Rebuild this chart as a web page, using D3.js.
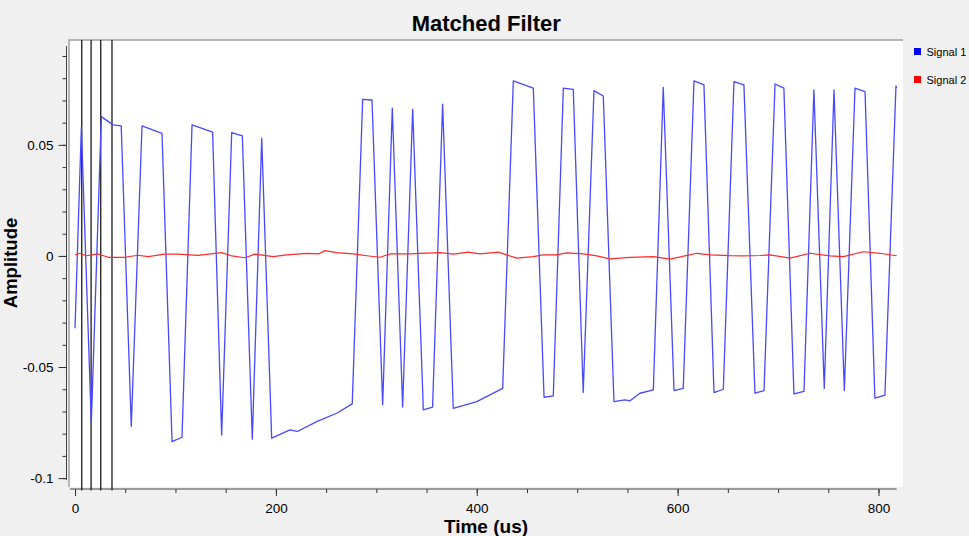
<!DOCTYPE html>
<html>
<head>
<meta charset="utf-8">
<script src="https://cdn.jsdelivr.net/npm/d3@7"></script>
<style>
  body { margin: 0; background: #f0f0f0; }
  svg { display: block; font-family: "Liberation Sans", Arial, sans-serif; }
</style>
</head>
<body>
<div id="chart"></div>
<script>
// Matched filter scope plot

const width = 969;
const height = 536;

// Signal 1 (blue) - time in us, amplitude
const sig1Time = [0, 6.3, 16.2, 26.2, 37.8, 46, 56, 66.7, 86.6, 96.6, 106.5, 116.5, 137, 146, 156, 166.6,
  176.5, 185.9, 195.8, 214, 221.3, 240.6, 260.5, 276, 286.4, 295.7, 306.3, 315.9, 326.2, 336.2, 346.8,
  356, 366, 376.6, 400, 425.8, 436.4, 456.3, 467, 476.2, 486.2, 496.1, 506, 516.7, 526, 536.6, 547.6,
  552.6, 562.5, 575.8, 585.7, 596.4, 605.6, 616.3, 626.2, 636.2, 645.5, 656.1, 666, 677, 686, 697,
  705.8, 715.8, 725.8, 735.7, 746, 755.7, 766, 776.6, 786.6, 796.4, 806.4, 817.4, 818];
const sig1Amp = [-0.0325, 0.058, -0.0753, 0.0627, 0.059, 0.0585, -0.0768, 0.0585, 0.0552, -0.0836, -0.0816,
  0.059, 0.0557, -0.0806, 0.0555, 0.054, -0.0825, 0.053, -0.082, -0.0783, -0.079, -0.0746, -0.0708,
  -0.0666, 0.0705, 0.0702, -0.067, 0.0665, -0.068, 0.066, -0.0693, -0.068, 0.0683, -0.0686, -0.0656,
  -0.0596, 0.0788, 0.0755, -0.0636, -0.063, 0.0755, 0.075, -0.0615, 0.0744, 0.072, -0.0656, -0.0648,
  -0.0652, -0.0618, -0.0603, 0.0759, -0.0606, -0.0596, 0.0788, 0.077, -0.0615, -0.06, 0.0785, 0.077,
  -0.0618, -0.0606, 0.0774, 0.0755, -0.0621, -0.061, 0.0747, -0.0596, 0.0747, -0.0606, 0.0755, 0.074,
  -0.064, -0.0626, 0.0765, 0.0756];

// Signal 2 (red) - residual noise around zero
const sig2Time = [0, 4.7, 11.3, 22.9, 32.9, 49.5, 62.7, 72.7, 89.3, 102.5, 122.5, 146, 156, 169.3, 179.2,
  197.4, 210.8, 230.7, 242.3, 248.9, 260.5, 277.1, 290.4, 303.7, 313.6, 333.5, 343.5, 363.4, 376.6,
  391.6, 403.2, 421.5, 429.8, 439.8, 456.3, 466.3, 479.6, 489.5, 506.1, 519.4, 532.7, 552.6, 575.8,
  592.4, 619, 632.2, 652.1, 665.4, 682, 691.9, 711.9, 731.8, 751.7, 765, 784.9, 801.5, 818.1];
const sig2Amp = [0.0004, 0.0012, 0.0001, 0.0009, -0.0006, -0.0006, 0.0003, -0.0003, 0.0008, 0.0008, 0.0003,
  0.0015, 0, -0.0008, 0.0008, -0.0003, 0.0005, 0.0012, 0.0009, 0.0024, 0.0015, 0.0009, 0.0001, -0.0006,
  0.0009, 0.0009, 0.0012, 0.0015, 0.0008, 0.0017, 0.0009, 0.0017, 0.0005, -0.001, -0.0003, 0.0005,
  0.0005, 0.0014, 0.0009, 0, -0.0013, -0.0006, -0.0003, -0.0014, 0.0012, 0.0005, 0.0001, 0, 0.0002,
  0.0005, -0.001, 0.0012, 0, -0.0003, 0.0019, 0.0012, 0.0001];

// vertical marker lines (us)
const markerTimes = [6.7, 16, 25.6, 36.8];

// axis ticks
const xMajorTicks = [0, 200, 400, 600, 800];
const xMinorTicks = d3.range(0, 801, 50);
const yMajorTicks = [-0.1, -0.05, 0, 0.05];
const yMajorLabels = ["-0.1", "-0.05", "0", "0.05"];
const yMinorTicks = d3.range(-10, 10).map(d => d / 100);

const seriesNames = ["Signal 1", "Signal 2"];
const seriesColors = ["#0000ff", "#ff0000"];

// plot canvas and axis extents
const canvas = {left: 69, right: 903, top: 40, bottom: 487};
const xDomain = [-6, 824.4];
const yDomain = [-0.104, 0.0972];
const xAxisSpan = [-5, 818];
const yAxisSpan = [-0.1008, 0.0945];

const svg = d3.select("#chart")
  .append("svg")
  .attr("width", width)
  .attr("height", height)
  .attr("viewBox", [0, 0, width, height]);

svg.append("rect")
  .attr("width", width)
  .attr("height", height)
  .attr("fill", "#f0f0f0");

const xScale = d3.scaleLinear().domain(xDomain).range([canvas.left, canvas.right]);
const yScale = d3.scaleLinear().domain(yDomain).range([canvas.bottom, canvas.top]);

// white canvas with sunken frame on top/left
svg.append("rect")
  .attr("x", canvas.left)
  .attr("y", canvas.top)
  .attr("width", canvas.right - canvas.left)
  .attr("height", canvas.bottom - canvas.top)
  .attr("fill", "#ffffff");

svg.append("path")
  .attr("d", `M${canvas.left},${canvas.bottom}V${canvas.top}H${canvas.right}`)
  .attr("fill", "none")
  .attr("stroke", "#a0a0a0")
  .attr("stroke-width", 1.5);

/*
  Axes
*/
const yAxisX = 66.5;
const xAxisY = 489;

const yAxisG = svg.append("g").attr("transform", `translate(${yAxisX},0)`);
yAxisG.append("g")
  .call(d3.axisLeft(yScale).tickValues(yMinorTicks).tickSize(4).tickFormat(""))
  .call(g => g.select(".domain").remove());
yAxisG.append("g")
  .call(d3.axisLeft(yScale).tickValues(yMajorTicks).tickSize(8).tickPadding(5)
    .tickFormat((d, i) => yMajorLabels[i]))
  .call(g => g.select(".domain").remove());
yAxisG.append("line")
  .attr("y1", yScale(yAxisSpan[0]))
  .attr("y2", yScale(yAxisSpan[1]))
  .attr("stroke", "#444");

const xAxisG = svg.append("g").attr("transform", `translate(0,${xAxisY})`);
xAxisG.append("g")
  .call(d3.axisBottom(xScale).tickValues(xMinorTicks).tickSize(4).tickFormat(""))
  .call(g => g.select(".domain").remove());
xAxisG.append("g")
  .call(d3.axisBottom(xScale).tickValues(xMajorTicks).tickSize(7).tickPadding(7).tickFormat(d3.format("d")))
  .call(g => g.select(".domain").remove());
xAxisG.append("line")
  .attr("x1", xScale(xAxisSpan[0]))
  .attr("x2", xScale(xAxisSpan[1]))
  .attr("stroke", "#444");

svg.selectAll(".tick line").attr("stroke", "#333");
svg.selectAll(".tick text")
  .attr("font-family", "Liberation Sans, Arial, sans-serif")
  .attr("font-size", "13.5px")
  .attr("fill", "#000");

/*
  Markers and traces
*/
svg.append("g")
  .selectAll("line")
  .data(markerTimes)
  .enter()
  .append("line")
  .attr("x1", d => xScale(d))
  .attr("x2", d => xScale(d))
  .attr("y1", canvas.top)
  .attr("y2", xAxisY + 1.5)
  .attr("stroke", "#1a1a1a")
  .attr("stroke-width", 1.3);

const line = d3.line()
  .x(d => xScale(d[0]))
  .y(d => yScale(d[1]));

const sig2 = sig2Time.map((t, i) => [t, sig2Amp[i]]);
const sig1 = sig1Time.map((t, i) => [t, sig1Amp[i]]);

svg.append("path")
  .datum(sig1)
  .attr("d", line)
  .attr("fill", "none")
  .attr("stroke", "#4848ff")
  .attr("stroke-width", 1.3)
  .attr("stroke-linejoin", "round");

svg.append("path")
  .datum(sig2)
  .attr("d", line)
  .attr("fill", "none")
  .attr("stroke", "#ff2a2a")
  .attr("stroke-width", 1.2)
  .attr("stroke-linejoin", "round");

/*
  Titles
*/
svg.append("text")
  .attr("x", 486.3)
  .attr("y", 30.5)
  .attr("text-anchor", "middle")
  .attr("font-size", "22px")
  .attr("font-weight", "bold")
  .text("Matched Filter");

svg.append("text")
  .attr("x", 486)
  .attr("y", 533)
  .attr("text-anchor", "middle")
  .attr("font-size", "19px")
  .attr("font-weight", "bold")
  .text("Time (us)");

svg.append("text")
  .attr("transform", "translate(17,263) rotate(-90)")
  .attr("text-anchor", "middle")
  .attr("font-size", "18.5px")
  .attr("font-weight", "bold")
  .text("Amplitude");

/*
  Legend
*/
const legend = svg.append("g")
  .selectAll("g")
  .data(seriesNames)
  .enter()
  .append("g")
  .attr("transform", (d, i) => `translate(914,${48 + i * 28})`);

legend.append("rect")
  .attr("width", 7)
  .attr("height", 7)
  .attr("fill", (d, i) => seriesColors[i]);

legend.append("text")
  .attr("x", 12.5)
  .attr("y", 8)
  .attr("font-size", "11px")
  .attr("fill", "#000")
  .text(d => d);
</script>
</body>
</html>
